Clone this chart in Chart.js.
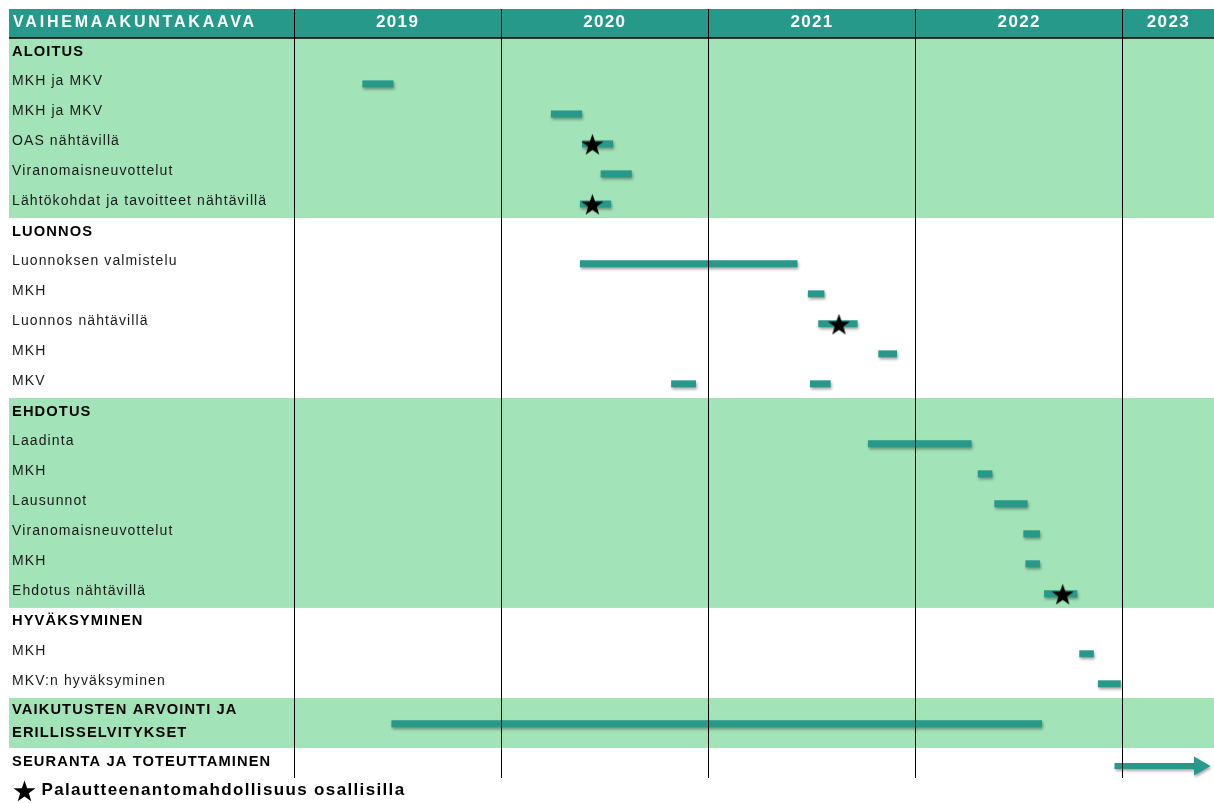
<!DOCTYPE html>
<html>
<head>
<meta charset="utf-8">
<script src="https://cdn.jsdelivr.net/npm/chart.js@4.4.1/dist/chart.umd.min.js"></script>
<style>
  html, body { margin: 0; padding: 0; background: #fff; }
  #wrap { width: 1214px; height: 803px; }
</style>
</head>
<body>
<div id="wrap"><canvas id="chart"></canvas></div>
<script>
const tableTitle = "VAIHEMAAKUNTAKAAVA";
const rowLabels = [
  "ALOITUS",
  "MKH ja MKV",
  "MKH ja MKV",
  "OAS nähtävillä",
  "Viranomaisneuvottelut",
  "Lähtökohdat ja tavoitteet nähtävillä",
  "LUONNOS",
  "Luonnoksen valmistelu",
  "MKH",
  "Luonnos nähtävillä",
  "MKH",
  "MKV",
  "EHDOTUS",
  "Laadinta",
  "MKH",
  "Lausunnot",
  "Viranomaisneuvottelut",
  "MKH",
  "Ehdotus nähtävillä",
  "HYVÄKSYMINEN",
  "MKH",
  "MKV:n hyväksyminen",
  ["VAIKUTUSTEN ARVOINTI JA", "ERILLISSELVITYKSET"],
  "SEURANTA JA TOTEUTTAMINEN"
];
const headerRows = [0, 6, 12, 19, 22, 23];
const shadedSections = [[0, 5], [12, 18], [22, 22]];
const yearLabels = ["2019", "2020", "2021", "2022", "2023"];

// one bar per task, time in decimal years
const taskRows   = [1, 2, 3, 4, 5, 7, 8, 9, 10, 11, 11, 13, 14, 15, 16, 17, 18, 20, 21, 22];
const taskStarts = [2019.33, 2020.24, 2020.39, 2020.48, 2020.38, 2020.38, 2021.48, 2021.53, 2021.82, 2020.82, 2021.49,
                    2021.77, 2022.30, 2022.38, 2022.52, 2022.53, 2022.62, 2022.79, 2022.88, 2019.47];
const taskEnds   = [2019.48, 2020.39, 2020.54, 2020.63, 2020.53, 2021.43, 2021.56, 2021.72, 2021.91, 2020.94, 2021.59,
                    2022.27, 2022.37, 2022.54, 2022.60, 2022.60, 2022.78, 2022.86, 2022.99, 2022.61];

// stars = feedback opportunity
const milestoneLabel = "Palautteenantomahdollisuus osallisilla";
const milestoneRows  = [3, 5, 9, 18];
const milestoneDates = [2020.44, 2020.44, 2021.63, 2022.71];

// continuing arrow
const ongoingRow = 23;
const ongoingStart = 2022.96;
const ongoingEnd = 2023.37;

const timelineStart = 2019;
const timelineEnd = 2023.44;

const teal = "#26998A";
const green = "#A2E3B8";
const fontFamily = "'Liberation Sans', Arial, sans-serif";
const barDrop = 0.08; // bars sit a touch below the label line

// row geometry in row units (two-line row is taller)
const rowTop = [], rowBottom = [], rowCenter = [];
let cursor = -0.4;
rowLabels.forEach((label) => {
  const w = Array.isArray(label) ? 1.67 : 1;
  rowTop.push(cursor);
  rowBottom.push(cursor + w);
  rowCenter.push(cursor + 0.45 + (w - 1) / 2);
  cursor += w;
});
const yEnd = cursor;

function makeStar(size) {
  const c = document.createElement("canvas");
  c.width = size;
  c.height = size;
  const g = c.getContext("2d");
  const cx = size / 2, cy = size / 2 + size * 0.06, R = size / 2, r = R * 0.4;
  g.beginPath();
  for (let i = 0; i < 10; i++) {
    const rad = i % 2 ? r : R;
    const a = -Math.PI / 2 + (i * Math.PI) / 5;
    g.lineTo(cx + rad * Math.cos(a), cy + rad * Math.sin(a));
  }
  g.closePath();
  g.fillStyle = "#000";
  g.fill();
  return c;
}
const starImg = makeStar(23);

const datasets = [];
datasets.push({
  type: "scatter",
  label: milestoneLabel,
  data: milestoneRows.map((r, i) => ({ x: milestoneDates[i], y: rowCenter[r] + barDrop })),
  pointStyle: starImg,
  pointRadius: 12,
  showLine: false,
});
taskRows.forEach((r, i) => {
  const y = rowCenter[r] + barDrop;
  datasets.push({
    type: "line",
    label: "task" + i,
    data: [{ x: taskStarts[i], y }, { x: taskEnds[i], y }],
    borderColor: teal,
    borderWidth: 7,
    borderCapStyle: "butt",
    pointRadius: 0,
    tension: 0,
  });
});
datasets.push({
  type: "line",
  label: "ongoing",
  data: [{ x: ongoingStart, y: rowCenter[ongoingRow] + 0.15 }, { x: ongoingEnd, y: rowCenter[ongoingRow] + 0.15 }],
  borderColor: teal,
  borderWidth: 6,
  borderCapStyle: "butt",
  pointRadius: [0, 11],
  pointStyle: "triangle",
  pointRotation: 90,
  pointBackgroundColor: teal,
  pointBorderWidth: 0,
});

// bands, header strip, text spacing, bar shadows
const timelineDecor = {
  id: "timelineDecor",
  beforeDraw(chart) {
    const { ctx, scales: { x, y } } = chart;
    const left = 9, right = chart.width;
    ctx.save();
    ctx.fillStyle = green;
    shadedSections.forEach(([a, b]) => {
      const top = y.getPixelForValue(rowTop[a]);
      const bottom = y.getPixelForValue(rowBottom[b]);
      ctx.fillRect(left, top, right - left, bottom - top);
    });
    ctx.fillStyle = teal;
    ctx.fillRect(left, x.top, right - left, x.bottom - x.top);
    ctx.fillStyle = "#fff";
    ctx.font = "bold 16px " + fontFamily;
    ctx.letterSpacing = "2.8px";
    ctx.textBaseline = "middle";
    ctx.textAlign = "left";
    ctx.fillText(tableTitle, 13, (x.top + x.bottom) / 2 - 1);
    ctx.restore();
    // year labels + legend
    ctx.letterSpacing = "1.35px";
  },
  afterDatasetsDraw(chart) {
    // row labels (y ticks, z: 1)
    chart.ctx.letterSpacing = "1.1px";
  },
  beforeDatasetDraw(chart, args) {
    if (args.meta.type !== "line") return;
    const ctx = chart.ctx;
    ctx.save();
    ctx.shadowColor = "rgba(0, 0, 0, 0.35)";
    ctx.shadowBlur = 3;
    ctx.shadowOffsetX = 1;
    ctx.shadowOffsetY = 2;
  },
  afterDatasetDraw(chart, args) {
    if (args.meta.type !== "line") return;
    chart.ctx.restore();
  },
  afterDraw(chart) {
    const { ctx, scales: { x } } = chart;
    ctx.save();
    ctx.strokeStyle = "#000";
    ctx.lineWidth = 1.5;
    ctx.beginPath();
    ctx.moveTo(9, x.bottom);
    ctx.lineTo(chart.width, x.bottom);
    ctx.stroke();
    ctx.restore();
  },
};

new Chart(document.getElementById("chart"), {
  type: "line",
  data: { datasets },
  options: {
    responsive: true,
    maintainAspectRatio: false,
    animation: false,
    events: [],
    layout: { autoPadding: false, padding: { top: 9, left: 12, right: 0, bottom: 0 } },
    scales: {
      x: {
        type: "linear",
        position: "top",
        min: timelineStart,
        max: timelineEnd,
        afterFit: (s) => {
          s.height = 29;
          s.paddingLeft = 0;
          s.paddingRight = 0;
        },
        afterBuildTicks: (s) => {
          const t = [];
          for (let yr = timelineStart; yr < 2023; yr++) {
            t.push({ value: yr }, { value: yr + 0.5 });
          }
          t.push({ value: 2023 }, { value: (2023 + timelineEnd) / 2 });
          s.ticks = t;
        },
        border: { display: false },
        grid: {
          z: 1,
          color: (c) => (c.tick && Number.isInteger(c.tick.value) ? "#000" : "rgba(0,0,0,0)"),
          lineWidth: 1,
          drawTicks: true,
          tickLength: 29,
        },
        ticks: {
          autoSkip: false,
          maxRotation: 0,
          padding: -21.5,
          color: "#fff",
          font: { family: fontFamily, size: 17, weight: "bold", lineHeight: 1 },
          callback: (v) => (Number.isInteger(v) ? "" : yearLabels[Math.floor(v) - timelineStart]),
        },
      },
      y: {
        type: "linear",
        reverse: true,
        min: -0.4,
        max: yEnd,
        afterFit: (s) => {
          s.width = 282;
          s.paddingTop = 0;
          s.paddingBottom = 0;
        },
        afterBuildTicks: (s) => {
          s.ticks = rowCenter.map((v) => ({ value: v }));
        },
        border: { display: false },
        grid: { display: false },
        ticks: {
          z: 1,
          autoSkip: false,
          crossAlign: "far",
          color: (c) => (headerRows.includes(c.index) ? "#000" : "#1a1a1a"),
          font: (c) => ({
            family: fontFamily,
            size: headerRows.includes(c.index) ? 14.7 : 14,
            weight: headerRows.includes(c.index) ? "bold" : "normal",
            lineHeight: 1.6,
          }),
          callback: (v, i) => rowLabels[i],
        },
      },
    },
    plugins: {
      tooltip: { enabled: false },
      legend: {
        position: "bottom",
        align: "start",
        maxHeight: 25,
        labels: {
          usePointStyle: true,
          padding: 4,
          color: "#000",
          font: { family: fontFamily, size: 17, weight: "bold" },
          filter: (item) => item.datasetIndex === 0,
        },
      },
    },
  },
  plugins: [timelineDecor],
});
</script>
</body>
</html>
